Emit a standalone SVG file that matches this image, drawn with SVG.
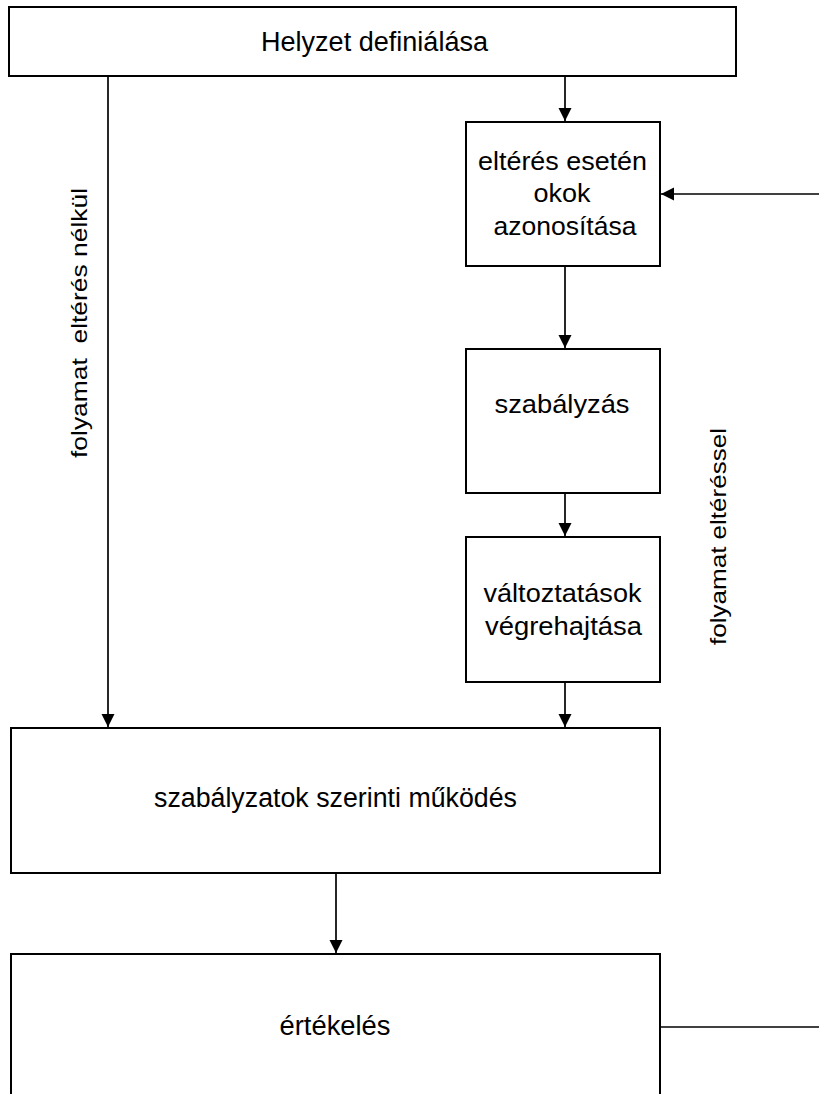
<svg xmlns="http://www.w3.org/2000/svg" width="819" height="1094" viewBox="0 0 819 1094">
<style>
.box{fill:#fff;stroke:#000;stroke-width:2}
.t{font-family:"Liberation Sans",Arial,sans-serif;fill:#000;text-anchor:middle}
.conn{stroke:#000;stroke-width:1.7;fill:none}
</style>
<defs>
<marker id="ah" markerUnits="userSpaceOnUse" markerWidth="14" markerHeight="14" refX="13" refY="6.5" orient="auto">
<path d="M0,0 L13,6.5 L0,13 z" fill="#000"/>
</marker>
</defs>
<rect width="819" height="1094" fill="#fff"/>
<g id="connectors">
<line class="conn" x1="108" y1="76" x2="108" y2="727" marker-end="url(#ah)"/>
<line class="conn" x1="565" y1="76" x2="565" y2="121" marker-end="url(#ah)"/>
<line class="conn" x1="565" y1="266" x2="565" y2="348" marker-end="url(#ah)"/>
<line class="conn" x1="565" y1="493" x2="565" y2="536" marker-end="url(#ah)"/>
<line class="conn" x1="565" y1="682" x2="565" y2="727" marker-end="url(#ah)"/>
<line class="conn" x1="336" y1="873" x2="336" y2="953" marker-end="url(#ah)"/>
<line class="conn" x1="819" y1="194" x2="661" y2="194" marker-end="url(#ah)"/>
<line class="conn" x1="660" y1="1027" x2="819" y2="1027"/>
</g>
<g id="n-helyzet">
<rect class="box" x="9" y="7" width="727" height="69"/>
<text class="t" x="374.5" y="51" font-size="27" textLength="227" lengthAdjust="spacingAndGlyphs">Helyzet definiálása</text>
</g>
<g id="n-okok">
<rect class="box" x="466" y="122" width="194" height="144"/>
<text class="t" x="562.5" y="170" font-size="26" textLength="169" lengthAdjust="spacingAndGlyphs">eltérés esetén</text>
<text class="t" x="562" y="202" font-size="26" textLength="57" lengthAdjust="spacingAndGlyphs">okok</text>
<text class="t" x="565" y="235" font-size="26" textLength="143" lengthAdjust="spacingAndGlyphs">azonosítása</text>
</g>
<g id="n-szabalyzas">
<rect class="box" x="466" y="349" width="194" height="144"/>
<text class="t" x="562" y="413" font-size="26" textLength="135" lengthAdjust="spacingAndGlyphs">szabályzás</text>
</g>
<g id="n-valtoztatasok">
<rect class="box" x="466" y="537" width="194" height="145"/>
<text class="t" x="562.5" y="602" font-size="26" textLength="158" lengthAdjust="spacingAndGlyphs">változtatások</text>
<text class="t" x="563.5" y="635" font-size="26" textLength="157" lengthAdjust="spacingAndGlyphs">végrehajtása</text>
</g>
<g id="n-mukodes">
<rect class="box" x="11" y="728" width="649" height="145"/>
<text class="t" x="335.5" y="807" font-size="27" textLength="363" lengthAdjust="spacingAndGlyphs">szabályzatok szerinti működés</text>
</g>
<g id="n-ertekeles">
<rect class="box" x="11" y="954" width="649" height="160"/>
<text class="t" x="335" y="1035" font-size="27" textLength="111" lengthAdjust="spacingAndGlyphs">értékelés</text>
</g>
<g id="label-left">
<text class="t" transform="translate(87,323) rotate(-90)" font-size="22" textLength="270" lengthAdjust="spacingAndGlyphs" xml:space="preserve">folyamat  eltérés nélkül</text>
</g>
<g id="label-right">
<text class="t" transform="translate(726,536.5) rotate(-90)" font-size="22" textLength="217" lengthAdjust="spacingAndGlyphs">folyamat eltéréssel</text>
</g>
</svg>
